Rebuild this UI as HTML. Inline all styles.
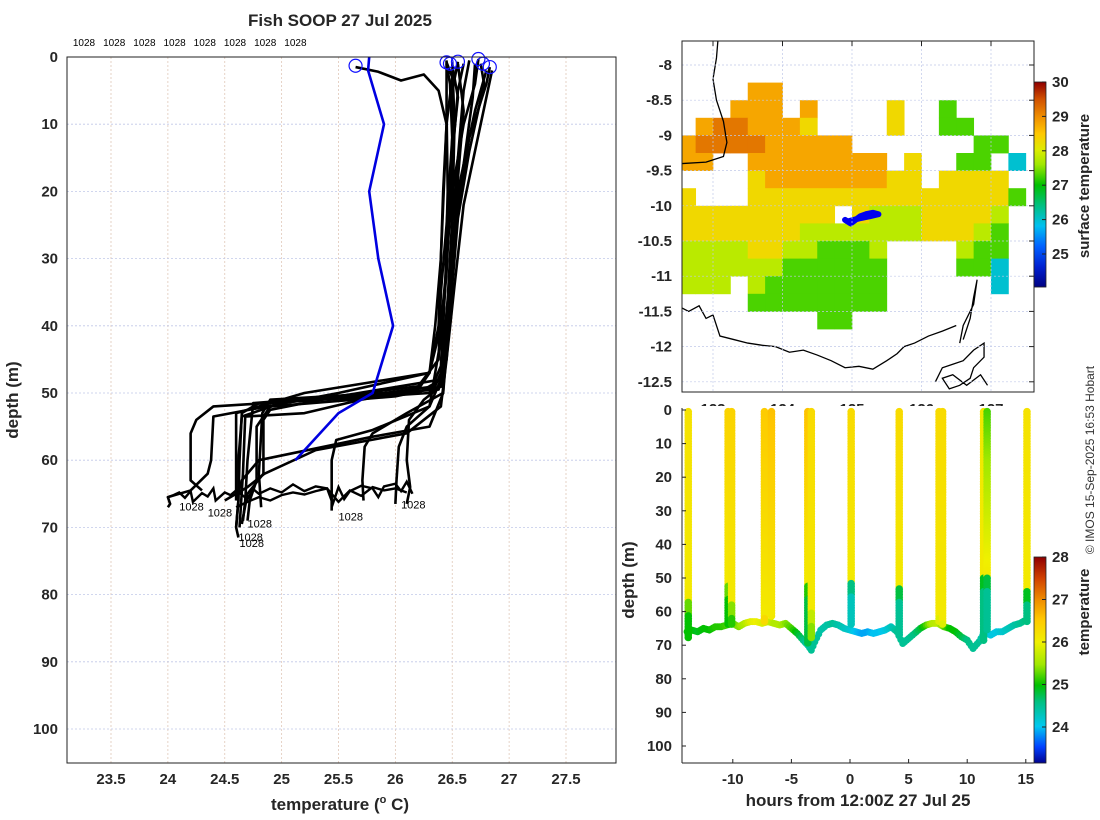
<!DOCTYPE html>
<html><head><meta charset="utf-8"><style>
html,body{margin:0;padding:0;background:#fff;}
svg{display:block;font-family:"Liberation Sans","DejaVu Sans",sans-serif;}
.tk{font-size:15px;font-weight:bold;fill:#262626;}
.lb{font-size:17px;font-weight:bold;fill:#262626;}
</style></head><body>
<svg id="fig" width="1100" height="820" viewBox="0 0 1100 820" xmlns="http://www.w3.org/2000/svg">
<defs>
<clipPath id="cl"><rect x="67" y="57" width="549" height="706"/></clipPath>
<clipPath id="cm"><rect x="682" y="41" width="352" height="351"/></clipPath>
<clipPath id="cb"><rect x="682" y="406" width="352" height="357"/></clipPath>
</defs>
<g id="left"></g>
<g id="map"></g>
<g id="bot"></g>
<text x="340" y="26" text-anchor="middle" class="lb">Fish SOOP 27 Jul 2025</text>
<text x="340" y="810" text-anchor="middle" class="lb">temperature (<tspan font-size="11" dy="-7">o</tspan><tspan dy="7"> C)</tspan></text>
<text transform="translate(18,400) rotate(-90)" text-anchor="middle" class="lb">depth (m)</text>
<text x="858" y="806" text-anchor="middle" class="lb">hours from 12:00Z 27 Jul 25</text>
<text transform="translate(634,580) rotate(-90)" text-anchor="middle" class="lb">depth (m)</text>
<text transform="translate(1089,186) rotate(-90)" text-anchor="middle" class="tk">surface temperature</text>
<text transform="translate(1089,612) rotate(-90)" text-anchor="middle" class="tk">temperature</text>
<text transform="translate(1094,460) rotate(-90)" text-anchor="middle" font-size="12" fill="#333">© IMOS 15-Sep-2025 16:53 Hobart</text>
</svg>
<script>
// ---------- LEFT PROFILE DATA ----------
const xTicks=[23.5,24,24.5,25,25.5,26,26.5,27,27.5];
const yTicks=[0,10,20,30,40,50,60,70,80,90,100];
const profiles=[
[[25.65,1.5],[25.85,2.2],[26.05,3.5],[26.25,2.6],[26.38,5],[26.45,10],[26.4,30],[26.38,40],[26.3,47],[25.2,50],[24.6,53],[24.6,60],[24.6,66]],
[[26.45,0.8],[26.5,3],[26.45,10],[26.42,20],[26.4,30],[26.35,40],[26.3,47],[25.5,50],[24.4,53.5],[24.38,60],[24.35,62],[24.2,64.5],[24.0,65.5],[24.02,66.5],[24.0,67]],
[[26.55,0.7],[26.5,5],[26.5,12],[26.45,25],[26.4,35],[26.38,45],[26.2,49],[25.0,51.5],[24.65,53.5],[24.62,60],[24.62,66],[24.6,70],[24.62,71.5]],
[[26.73,0.3],[26.7,4],[26.6,10],[26.5,20],[26.45,30],[26.42,40],[26.4,48],[25.5,50.5],[24.9,52.5],[24.84,54],[24.84,62],[24.7,65],[24.65,69.5]],
[[26.83,1.5],[26.8,4],[26.65,12],[26.55,22],[26.5,32],[26.45,42],[26.42,49],[26.0,50.5],[24.9,52],[24.78,55],[24.78,63],[24.72,66],[24.7,69]],
[[26.45,1],[26.48,4],[26.5,12],[26.48,22],[26.45,32],[26.4,42],[26.3,52],[25.8,55.5],[25.48,57],[25.44,60],[25.44,64],[25.44,67.5]],
[[26.75,1.0],[26.78,4],[26.65,14],[26.55,24],[26.5,34],[26.45,44],[26.42,50],[26.1,53],[25.8,56],[25.73,58],[25.71,63],[25.72,66]],
[[26.6,1],[26.55,5],[26.5,15],[26.5,25],[26.48,35],[26.45,44],[26.4,48],[26.3,52],[26.1,55],[26.03,58],[26.01,63],[26.0,66.5]],
[[26.65,0.5],[26.6,5],[26.55,15],[26.5,25],[26.5,35],[26.45,45],[26.4,49],[26.25,51],[26.12,54],[26.1,60],[26.13,64],[26.1,66.5]],
[[26.7,1],[26.68,6],[26.6,16],[26.5,28],[26.45,40],[26.4,48],[26.2,50],[24.8,51.5],[24.65,53],[24.63,60],[24.62,66],[24.6,70]],
[[26.5,1.2],[26.55,6],[26.5,14],[26.47,25],[26.43,36],[26.4,46],[26.3,50],[24.4,52],[24.25,54],[24.2,56],[24.2,63],[24.3,64.5]],
[[26.45,0.5],[26.45,8],[26.46,20],[26.44,33],[26.4,40],[26.3,47],[26.2,49.5],[25.7,51],[25.2,53],[24.68,53.5],[24.66,62],[24.63,70]],
[[26.8,2],[26.7,8],[26.55,20],[26.5,32],[26.45,40],[26.42,50],[26.3,55],[25.8,56.5],[24.8,60],[24.65,63],[24.6,66]],
[[26.85,2],[26.75,10],[26.6,22],[26.52,34],[26.45,45],[26.4,52],[26.1,56],[25.3,58.5],[24.85,62],[24.7,64],[24.55,65.5],[24.5,66]],
[[26.55,1],[26.6,8],[26.55,18],[26.5,30],[26.45,38],[26.4,47],[26.35,49],[25.9,50],[24.9,51],[24.83,53],[24.8,62],[24.82,67]],
[[26.5,0.8],[26.52,10],[26.5,24],[26.46,36],[26.42,46],[26.38,49.5],[25.5,50.5],[24.75,51.5],[24.7,60],[24.68,66],[24.66,69]]
];
const noiseT=[24.0,24.05,24.1,24.15,24.2,24.22,24.3,24.35,24.4,24.42,24.5,24.55,24.6,24.7,24.75,24.8,24.9,25.0,25.1,25.2,25.3,25.4,25.45,25.5,25.55,25.6,25.7,25.8,25.85,25.9,26.0,26.05,26.1,26.15];
const noiseD=[65.5,65.2,64.8,65.6,64.6,66.2,64.9,65.4,64.2,66.0,64.8,65.2,64.5,65.8,64.3,65.0,64.2,64.8,63.6,64.6,63.9,64.2,66.5,64.0,65.8,64.6,63.8,64.2,65.5,63.9,63.5,64.6,63.2,65.0];
const noise2T=[24.6,24.7,24.8,24.9,25.0,25.1,25.2,25.3,25.4,25.5,25.6,25.7,25.8,25.9,26.0,26.1];
const noise2D=[67,66.2,65.5,66.0,65.2,64.8,65.1,64.6,64.2,66.2,64.5,65.3,64,64.5,64.2,64.8];
const blueT=[25.77,25.76,25.9,25.77,25.85,25.98,25.8,25.5,25.12];
const blueD=[0,2,10,20,30,40,50,53,60];
const circT=[25.65,26.45,26.48,26.55,26.73,26.83,26.77];
const circD=[1.3,0.8,1.0,0.7,0.3,1.5,1.0];
const topLabels=["1028","1028","1028","1028","1028","1028","1028","1028"];
const endLabT=[24.1,24.35,24.7,24.62,24.63,25.5,26.05];
const endLabD=[67.5,68.4,70,72,72.9,69,67.2];

// ---------- MAP DATA ----------
const mapLatTicks=[-8,-8.5,-9,-9.5,-10,-10.5,-11,-11.5,-12,-12.5];
const mapLonTicks=[123,124,125,126,127];
const sstCodes={o:28.8,O:29.2,y:28.3,l:27.8,g:27.3,c:26.0};
const sstRows=[
"                     ",
"                     ",
"                     ",
"    oo               ",
"   ooo o    y  g     ",
" oOOoooy    y  gg    ",
"oOOOOooooo       gg  ",
"oo  oooooooo y  gg c ",
"    yoooooooyy yyyy  ",
"y   yyyyyyyyyyyyyyyg ",
"yyyyyyyyy ylllyyyyl  ",
"yyyyyyylllllllyyylg  ",
"llllyyllgggl    lgg  ",
"llllllgggggg    ggc  ",
"lll lggggggg      c  ",
"    gggggggg         ",
"        gg           ",
"                     ",
"                     ",
"                     ",
"                     "];
const shipLon=[124.9,124.98,125.05,125.12,125.2,125.3,125.38,125.25,125.1,124.95];
const shipLat=[-10.2,-10.25,-10.2,-10.15,-10.12,-10.1,-10.12,-10.15,-10.18,-10.22];
const coast1Lon=[123.07,123.05,123.0,123.05,123.15,123.2,123.15,122.9,122.55];
const coast1Lat=[-7.66,-7.9,-8.2,-8.5,-8.8,-9.1,-9.3,-9.38,-9.4];
const coast2Lon=[122.55,122.65,122.8,122.9,123.0,123.1,123.3,123.5,123.7,123.9,124.1,124.3,124.5,124.7,124.9,125.1,125.3,125.5,125.65,125.75,125.9,126.1,126.3,126.5];
const coast2Lat=[-11.45,-11.5,-11.42,-11.6,-11.55,-11.85,-11.9,-11.95,-11.98,-12.0,-12.08,-12.05,-12.12,-12.2,-12.3,-12.28,-12.32,-12.2,-12.1,-12.0,-11.95,-11.85,-11.78,-11.7];
const coast3Lon=[126.2,126.3,126.45,126.6,126.75,126.9,126.9,126.75,126.7,126.55,126.4,126.3,126.45,126.65,126.85,126.95];
const coast3Lat=[-12.5,-12.3,-12.25,-12.2,-12.05,-11.95,-12.15,-12.3,-12.45,-12.55,-12.6,-12.45,-12.4,-12.55,-12.4,-12.55];
const coast4Lon=[126.6,126.7,126.75,126.8,126.75,126.6,126.55];
const coast4Lat=[-11.9,-11.6,-11.3,-11.05,-11.4,-11.7,-11.95];

// ---------- BOTTOM PLOT DATA ----------
const hTicks=[-10,-5,0,5,10,15];
const dTicks=[0,10,20,30,40,50,60,70,80,90,100];
const trackH=[-13.9,-13.5,-13,-12.5,-12,-11.5,-11,-10.5,-10,-9.5,-9,-8.5,-8,-7.5,-7,-6.5,-6,-5.5,-5,-4.5,-4,-3.6,-3.3,-3,-2.5,-2,-1.5,-1,-0.5,0,0.5,1,1.5,2,2.5,3,3.5,4,4.5,5,5.5,6,6.5,7,7.5,8,8.5,9,9.5,10,10.5,11,11.5,12,12.5,13,13.5,14,14.5,15,15.2];
const trackD=[66,65.5,66,65,65.5,64.5,64.5,64,63.5,64.5,63.5,63,63,63.5,63,63.5,64,63.5,65,66.5,68.5,70,71.5,69,65.5,64,63.5,64,65,65.5,66,66.5,66,66.5,66,65.5,64.5,66,69.5,68,66.5,65,64,63.5,63.5,64.5,65,66,67.5,68.5,71,69,66,67,66,66,65,64,63.5,62.5,62];
const trackT=[25.0,25.0,24.9,25.0,25.0,25.1,25.1,25.2,25.3,25.4,25.6,25.9,26.0,25.9,25.8,25.6,25.6,25.4,25.2,24.9,24.6,24.4,24.5,24.5,24.4,24.4,24.5,24.4,24.3,24.2,24.0,23.9,23.9,24.0,24.0,24.1,24.3,24.5,24.5,24.5,24.6,24.8,25.2,25.6,25.7,25.3,25.0,25.0,24.8,24.6,24.5,24.5,24.2,24.1,24.1,24.2,24.3,24.4,24.5,24.6,24.7];
const spikeH=[-13.8,-10.4,-10.1,-7.3,-6.7,-3.6,-3.3,0.1,4.2,7.6,7.9,11.4,11.7,15.1];
const spikeTop=[26.2,26.4,26.4,26.5,26.6,26.6,26.3,26.3,26.3,26.3,26.3,26.1,25.2,26.2];
const spikeTrans=[57,52,58,62,63,52,60,51,53,62,63,50,50,54];
const spikeLow=[25.0,25.0,25.1,26.0,26.0,24.8,25.4,24.3,24.5,25.6,25.6,24.6,24.5,24.6];
const spikeBottom=[68,64,64,63,62,70,68,64,67,63,64,69,66,63];
</script>
<script>
const NS="http://www.w3.org/2000/svg";
function mk(tag,attrs,parent){const e=document.createElementNS(NS,tag);for(const k in attrs)e.setAttribute(k,attrs[k]);parent.appendChild(e);return e;}
const stopsA=[[0,[0,0,128]],[0.1,[0,32,208]],[0.2,[0,96,255]],[0.3,[0,192,240]],[0.4,[0,192,128]],[0.5,[0,192,0]],[0.6,[160,232,0]],[0.67,[220,236,0]],[0.75,[255,200,0]],[0.83,[240,144,0]],[0.92,[208,80,0]],[1,[144,0,0]]];
const stopsB=[[0,[0,0,140]],[0.08,[0,64,255]],[0.18,[0,200,240]],[0.3,[0,192,128]],[0.38,[0,192,0]],[0.48,[160,232,0]],[0.59,[240,240,0]],[0.7,[255,200,0]],[0.79,[240,144,0]],[0.9,[208,64,0]],[1,[144,0,0]]];
function cm(stops,t){t=Math.max(0,Math.min(1,t));for(let i=1;i<stops.length;i++){if(t<=stops[i][0]){const a=stops[i-1],b=stops[i],f=(t-a[0])/(b[0]-a[0]);return 'rgb('+a[1].map((v,j)=>Math.round(v+(b[1][j]-v)*f)).join(',')+')';}}return 'rgb(144,0,0)';}
const cmap=t=>cm(stopsA,t), cmapB=t=>cm(stopsB,t);

// ===== LEFT PLOT =====
const L=document.getElementById('left');
const xT=t=>111+(t-23.5)*113.75, yZ=z=>57+z*6.72;
mk('rect',{x:67,y:57,width:549,height:706,fill:'#fff'},L);
xTicks.forEach(t=>{
 const g=mk('line',{x1:xT(t),x2:xT(t),y1:57,y2:763,stroke:'#e0c8b8','stroke-dasharray':'2,2','stroke-width':0.8},L);
 
 
 const tx=mk('text',{x:xT(t),y:784,'text-anchor':'middle',class:'tk'},L);tx.textContent=t;
 
 
});
yTicks.forEach(z=>{
 const g=mk('line',{x1:67,x2:616,y1:yZ(z),y2:yZ(z),stroke:'#c0c8e8','stroke-dasharray':'2,2','stroke-width':0.8},L);
 
 
 const tx=mk('text',{x:58,y:yZ(z)+5,'text-anchor':'end',class:'tk'},L);tx.textContent=z;
 
 
});
const lc=mk('g',{'clip-path':'url(#cl)'},L);
profiles.forEach((p,i)=>{
 const pl=mk('polyline',{points:p.map(q=>xT(q[0])+','+yZ(q[1])).join(' '),fill:'none',stroke:'#000','stroke-width':2.6,'stroke-linejoin':'round'},lc);
 
 
});
[[noiseT,noiseD],[noise2T,noise2D]].forEach((nd,i)=>{
 const pl=mk('polyline',{points:nd[0].map((t,j)=>xT(t)+','+yZ(nd[1][j])).join(' '),fill:'none',stroke:'#000','stroke-width':2.4},lc);
 
 
});
const bl=mk('polyline',{points:blueT.map((t,j)=>xT(t)+','+yZ(blueD[j])).join(' '),fill:'none',stroke:'#0000e0','stroke-width':2.6},lc);


circT.forEach((t,j)=>{
 const c=mk('circle',{cx:xT(t),cy:yZ(circD[j]),r:6.5,fill:'none',stroke:'#1010ff','stroke-width':1.2},L);
 
 
});
topLabels.forEach((s,j)=>{
 const tx=mk('text',{x:84+j*30.2,y:46,'text-anchor':'middle','font-size':10,fill:'#000'},L);tx.textContent=s;
 
 
});
endLabT.forEach((t,j)=>{
 const tx=mk('text',{x:xT(t),y:yZ(endLabD[j]),'font-size':11,fill:'#000'},L);tx.textContent='1028';
 
 
});
mk('rect',{x:67,y:57,width:549,height:706,fill:'none',stroke:'#222','stroke-width':1},L);

// ===== MAP =====
const M=document.getElementById('map');
const lonX=l=>713+(l-123)*69.5, latY=a=>65-(a+8)*70.4;
mk('rect',{x:682,y:41,width:352,height:351,fill:'#fff'},M);
const mapLonLabels=mk('g',{},M);
mapLonTicks.forEach(l=>{
 const tx=mk('text',{x:lonX(l),y:414,'text-anchor':'middle',class:'tk'},mapLonLabels);tx.textContent=l;
 
 
});
const mg=mk('g',{'clip-path':'url(#cm)'},M);
sstRows.forEach((row,r)=>{
 for(let c=0;c<row.length;c++){const ch=row[c];if(ch===' ')continue;
  const v=sstCodes[ch];const x0=lonX(122.5+0.25*c),x1=lonX(122.75+0.25*c),y0=latY(-7.5-0.25*r),y1=latY(-7.75-0.25*r);
  const rc=mk('rect',{x:x0,y:y0,width:x1-x0+0.4,height:y1-y0+0.4,fill:cmap((v-24.04)/5.96)},mg);
  
  
 }
});
mapLatTicks.forEach(a=>{
 mk('line',{x1:682,x2:1034,y1:latY(a),y2:latY(a),stroke:'#c0c8e8','stroke-dasharray':'2,2','stroke-width':0.7},M);
 mk('line',{x1:1034,x2:1029,y1:latY(a),y2:latY(a),stroke:'#222'},M);
 const tx=mk('text',{x:672,y:latY(a)+5,'text-anchor':'end',class:'tk'},M);tx.textContent=a;
 
 
});
mapLonTicks.forEach(l=>{
 mk('line',{x1:lonX(l),x2:lonX(l),y1:41,y2:392,stroke:'#c0c8e8','stroke-dasharray':'2,2','stroke-width':0.7},M);
 mk('line',{x1:lonX(l),x2:lonX(l),y1:41,y2:46,stroke:'#222'},M);
});
[[coast1Lon,coast1Lat],[coast2Lon,coast2Lat],[coast3Lon,coast3Lat],[coast4Lon,coast4Lat]].forEach(cc=>{
 const pl=mk('polyline',{points:cc[0].map((l,j)=>lonX(l)+','+latY(cc[1][j])).join(' '),fill:'none',stroke:'#000','stroke-width':1.3},mg);
 
 
});
const sp=mk('polyline',{points:shipLon.map((l,j)=>lonX(l)+','+latY(shipLat[j])).join(' '),fill:'none',stroke:'#0000f0','stroke-width':6,'stroke-linejoin':'round','stroke-linecap':'round'},mg);


mk('rect',{x:682,y:41,width:352,height:351,fill:'none',stroke:'#222'},M);
const cb1Ticks=[25,26,27,28,29,30];
for(let i=0;i<205;i++){const v=30-(i/205)*5.96;mk('rect',{x:1034,y:82+i,width:12,height:1.2,fill:cmap((v-24.04)/5.96)},M);}
mk('rect',{x:1034,y:82,width:12,height:205,fill:'none',stroke:'#222','stroke-width':0.8},M);
cb1Ticks.forEach(v=>{const y=82+(30-v)*34.4;mk('line',{x1:1046,x2:1042,y1:y,y2:y,stroke:'#222'},M);
 const tx=mk('text',{x:1052,y:y+5,class:'tk'},M);tx.textContent=v;
 
 });

// ===== BOTTOM PLOT =====
const B=document.getElementById('bot');
const hX=h=>850+h*11.72, dY=d=>410+d*3.36;
mk('rect',{x:676,y:406,width:358,height:357,fill:'#fff'},B);
const bg=mk('g',{'clip-path':'url(#cb)'},B);
const nT=v=>(v-23.15)/4.85;
for(let i=0;i<trackH.length-1;i++){
 const n=Math.max(2,Math.ceil(Math.abs(hX(trackH[i+1])-hX(trackH[i]))/2));
 for(let k=0;k<n;k++){const f=k/n;const h=trackH[i]+(trackH[i+1]-trackH[i])*f,d=trackD[i]+(trackD[i+1]-trackD[i])*f,t=trackT[i]+(trackT[i+1]-trackT[i])*f;
  const c=mk('circle',{cx:hX(h),cy:dY(d),r:3.5,fill:cmapB(nT(t))},bg);
  
  }
}
spikeH.forEach((h,i)=>{
 for(let d=0.5;d<=spikeBottom[i];d+=0.8){
  let t;
  if(d<spikeTrans[i]) t=spikeTop[i]+(26.1-spikeTop[i])*(d/spikeTrans[i]);
  else t=spikeLow[i]+(d>spikeTrans[i]+4?0:0.3);
  const c=mk('circle',{cx:hX(h),cy:dY(d),r:3.8,fill:cmapB(nT(t))},bg);
  
  
 }
});
dTicks.forEach(d=>{const tx=mk('text',{x:672,y:dY(d)+5,'text-anchor':'end',class:'tk'},B);tx.textContent=d;
 
 
 mk('line',{x1:682,x2:686,y1:dY(d),y2:dY(d),stroke:'#222'},B);});
hTicks.forEach(h=>{const tx=mk('text',{x:hX(h),y:784,'text-anchor':'middle',class:'tk'},B);tx.textContent=h;
 
 
 mk('line',{x1:hX(h),x2:hX(h),y1:763,y2:759,stroke:'#222'},B);});
mk('line',{x1:682,x2:682,y1:408,y2:763,stroke:'#222'},B);
mk('line',{x1:682,x2:1034,y1:763,y2:763,stroke:'#222'},B);
const cb2Ticks=[24,25,26,27,28];
for(let i=0;i<206;i++){const v=28-(i/206)*4.85;mk('rect',{x:1034,y:557+i,width:12,height:1.2,fill:cmapB(nT(v))},B);}
mk('rect',{x:1034,y:557,width:12,height:206,fill:'none',stroke:'#222','stroke-width':0.8},B);
cb2Ticks.forEach(v=>{const y=557+(28-v)*42.5;mk('line',{x1:1046,x2:1042,y1:y,y2:y,stroke:'#222'},B);
 const tx=mk('text',{x:1052,y:y+5,class:'tk'},B);tx.textContent=v;
 
 });
</script>
</body></html>
